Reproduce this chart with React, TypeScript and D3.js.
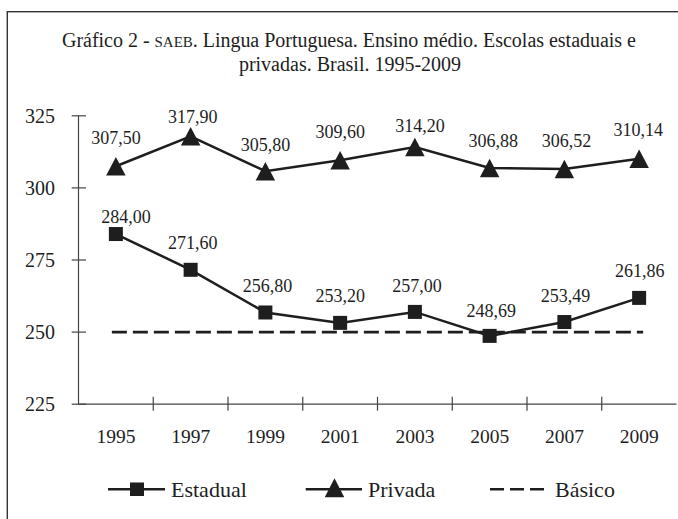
import React from "react";
import * as d3 from "d3";

const years = ["1995", "1997", "1999", "2001", "2003", "2005", "2007", "2009"];
const estadual = [284.0, 271.6, 256.8, 253.2, 257.0, 248.69, 253.49, 261.86];
const privada = [307.5, 317.9, 305.8, 309.6, 314.2, 306.88, 306.52, 310.14];
const basico = [250, 250, 250, 250, 250, 250, 250, 250];
const yTicks = [225, 250, 275, 300, 325];

// label layout offsets (dx, dy from the point)
const estadualLabelOffsets = [[10, -11], [2, -20.5], [2, -20], [0, -21], [2, -20], [1.5, -19], [1, -20.5], [0.5, -21]];
const privadaLabelOffsets = [[0, -22], [2, -13], [0, -20], [0, -22.5], [5, -15], [3.5, -21], [2, -22], [-1, -22.5]];

const fmt = (v: number) => v.toFixed(2).replace(".", ",");
const FONT = "'Liberation Serif', 'Times New Roman', serif";
const INK = "#1e1e1e";

export default function App() {
  const x = d3.scaleBand<string>().domain(years).range([78.5, 676.5]).paddingInner(0).paddingOuter(0);
  const y = d3.scaleLinear().domain([225, 325]).range([404.2, 115.8]);
  const cx = (yr: string) => (x(yr) as number) + x.bandwidth() / 2;

  const line = d3
    .line<number>()
    .x((_, i) => cx(years[i]))
    .y((d) => y(d));

  const tri = (px: number, py: number, w: number, h: number) =>
    `M${px - w / 2},${py + h / 2}L${px},${py - h / 2}L${px + w / 2},${py + h / 2}Z`;

  const x0 = cx(years[0]) - 4;
  const x1 = cx(years[years.length - 1]) + 4;

  return (
    <svg width={678} height={519} style={{ position: "absolute", left: 0, top: 0, fontFamily: FONT }}>
      <rect x={0} y={0} width={678} height={519} fill="#fff" />
      <rect x={7.3} y={11.7} width={720} height={600} fill="none" stroke="#333" strokeWidth={1.4} />

      {/* title */}
      <text x={349} y={46.7} textAnchor="middle" fontSize={20} fill={INK} textLength={574} lengthAdjust="spacing">
        Gráfico 2 - <tspan fontSize={15}>SAEB</tspan>. Lingua Portuguesa. Ensino médio. Escolas estaduais e
      </text>
      <text x={350} y={70.5} textAnchor="middle" fontSize={20} fill={INK}>
        privadas. Brasil. 1995-2009
      </text>

      {/* y axis */}
      <line x1={78.5} x2={78.5} y1={y(325)} y2={y(225)} stroke="#444" strokeWidth={1.2} />
      {yTicks.map((t) => (
        <g key={t}>
          <line x1={71.7} x2={86} y1={y(t)} y2={y(t)} stroke="#444" strokeWidth={1.2} />
          <text x={55} y={y(t)} dy="0.35em" textAnchor="end" fontSize={20} fill={INK}>
            {t}
          </text>
        </g>
      ))}

      {/* x axis */}
      <line x1={78.5} x2={676.5} y1={y(225)} y2={y(225)} stroke="#444" strokeWidth={1.2} />
      {years.map((yr, i) =>
        i === 0 ? null : (
          <line key={"t" + yr} x1={x(yr) as number} x2={x(yr) as number} y1={396.8} y2={410.7} stroke="#444" strokeWidth={1.2} />
        )
      )}
      {years.map((yr) => (
        <text key={"l" + yr} x={cx(yr)} y={443.3} textAnchor="middle" fontSize={19.5} fill={INK}>
          {yr}
        </text>
      ))}

      {/* Básico */}
      <line x1={x0} x2={x1} y1={y(basico[0])} y2={y(basico[basico.length - 1])} stroke={INK} strokeWidth={2.6} strokeDasharray="15 6" />

      {/* Estadual */}
      <path d={line(estadual) as string} fill="none" stroke={INK} strokeWidth={2.5} />
      {estadual.map((v, i) => (
        <rect key={"es" + i} x={cx(years[i]) - 7} y={y(v) - 7} width={14} height={14} fill={INK} />
      ))}
      {estadual.map((v, i) => (
        <text key={"el" + i} x={cx(years[i]) + estadualLabelOffsets[i][0]} y={y(v) + estadualLabelOffsets[i][1]} textAnchor="middle" fontSize={18} fill={INK}>
          {fmt(v)}
        </text>
      ))}

      {/* Privada */}
      <path d={line(privada) as string} fill="none" stroke={INK} strokeWidth={2.5} />
      {privada.map((v, i) => (
        <path key={"pt" + i} d={tri(cx(years[i]), y(v), 19.5, 18.5)} fill={INK} />
      ))}
      {privada.map((v, i) => (
        <text key={"pl" + i} x={cx(years[i]) + privadaLabelOffsets[i][0]} y={y(v) + privadaLabelOffsets[i][1]} textAnchor="middle" fontSize={18} fill={INK}>
          {fmt(v)}
        </text>
      ))}

      {/* legend */}
      <g>
        <line x1={108} x2={165} y1={489.3} y2={489.3} stroke={INK} strokeWidth={2.5} />
        <rect x={130} y={482.5} width={14} height={13.5} fill={INK} />
        <text x={171} y={497} fontSize={22} fill={INK}>Estadual</text>

        <line x1={305.7} x2={362} y1={489.3} y2={489.3} stroke={INK} strokeWidth={2.5} />
        <path d={tri(334.5, 487.8, 19.5, 19)} fill={INK} />
        <text x={368} y={497} fontSize={22} fill={INK}>Privada</text>

        <line x1={490} x2={546} y1={489.3} y2={489.3} stroke={INK} strokeWidth={2.6} strokeDasharray="14 6" />
        <text x={555} y={497} fontSize={22} fill={INK}>Básico</text>
      </g>
    </svg>
  );
}
